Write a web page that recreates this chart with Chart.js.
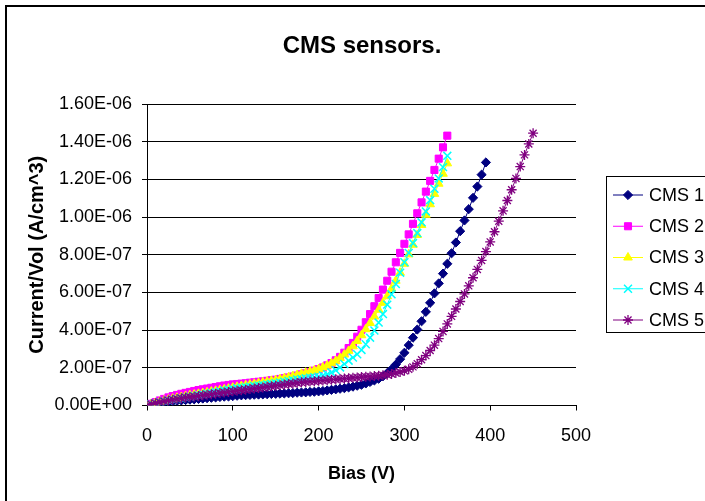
<!DOCTYPE html>
<html>
<head>
<meta charset="utf-8">
<title>CMS sensors.</title>
<script src="https://cdn.jsdelivr.net/npm/chart.js@4.4.1/dist/chart.umd.min.js"></script>
<style>
  html, body { margin: 0; padding: 0; background: #ffffff; }
  #chartWrap { width: 705px; height: 501px; }
</style>
</head>
<body>
<div id="chartWrap"><canvas id="cmsChart" width="705" height="501"></canvas></div>
<script>
/* ---------- Data (current values in units of 1e-7 A/cm^3) ---------- */
const VALUE_UNIT = 1e-7;

const biasVolts = [
  0, 5, 10, 15, 20, 25, 30, 35, 40, 45,
  50, 55, 60, 65, 70, 75, 80, 85, 90, 95,
  100, 105, 110, 115, 120, 125, 130, 135, 140, 145,
  150, 155, 160, 165, 170, 175, 180, 185, 190, 195,
  200, 205, 210, 215, 220, 225, 230, 235, 240, 245,
  250, 255, 260, 265, 270, 275, 280, 285, 290, 295,
  300, 305, 310, 315, 320, 325, 330, 335, 340, 345,
  350, 355, 360, 365, 370, 375, 380, 385, 390, 395,
  400, 405, 410, 415, 420, 425, 430, 435, 440, 445,
  450
];

const seriesNames = ["CMS 1", "CMS 2", "CMS 3", "CMS 4", "CMS 5"];

const cms1Values = [
  0, 0.05, 0.09, 0.13, 0.16, 0.19, 0.22, 0.25, 0.27, 0.29,
  0.31, 0.33, 0.35, 0.37, 0.39, 0.41, 0.43, 0.45, 0.47, 0.48,
  0.50, 0.52, 0.54, 0.55, 0.56, 0.57, 0.58, 0.59, 0.60, 0.61,
  0.62, 0.63, 0.64, 0.65, 0.66, 0.68, 0.69, 0.70, 0.72, 0.73,
  0.75, 0.77, 0.80, 0.83, 0.86, 0.89, 0.92, 0.96, 1.00, 1.05,
  1.10, 1.17, 1.25, 1.33, 1.42, 1.55, 1.72, 1.92, 2.17, 2.46,
  2.80, 3.20, 3.60, 4.03, 4.47, 4.97, 5.45, 5.95, 6.48, 7.00,
  7.52, 8.08, 8.65, 9.25, 9.82, 10.42, 11.02, 11.62, 12.25, 12.90
];

const cms2Values = [
  0, 0.09, 0.18, 0.27, 0.35, 0.43, 0.50, 0.56, 0.62, 0.67,
  0.72, 0.77, 0.82, 0.86, 0.90, 0.94, 0.98, 1.02, 1.06, 1.09,
  1.12, 1.14, 1.16, 1.18, 1.21, 1.23, 1.26, 1.28, 1.31, 1.34,
  1.37, 1.41, 1.45, 1.49, 1.54, 1.59, 1.65, 1.71, 1.78, 1.85,
  1.93, 2.02, 2.13, 2.25, 2.40, 2.58, 2.80, 3.05, 3.32, 3.65,
  4.02, 4.42, 4.85, 5.27, 5.70, 6.15, 6.62, 7.10, 7.60, 8.10,
  8.58, 9.08, 9.64, 10.20, 10.78, 11.35, 11.92, 12.50, 13.10, 13.70,
  14.32
];

const cms3Values = [
  0, 0.07, 0.14, 0.20, 0.26, 0.31, 0.36, 0.41, 0.45, 0.50,
  0.54, 0.58, 0.62, 0.66, 0.70, 0.74, 0.78, 0.82, 0.86, 0.90,
  0.95, 0.99, 1.03, 1.07, 1.11, 1.15, 1.19, 1.23, 1.27, 1.31,
  1.35, 1.40, 1.45, 1.50, 1.56, 1.62, 1.68, 1.74, 1.80, 1.86,
  1.93, 2.02, 2.12, 2.24, 2.37, 2.52, 2.70, 2.90, 3.14, 3.42,
  3.73, 4.05, 4.38, 4.72, 5.08, 5.45, 5.80, 6.20, 6.62, 7.05,
  7.52, 8.02, 8.53, 9.05, 9.58, 10.12, 10.68, 11.23, 11.77, 12.30,
  12.85
];

const cms4Values = [
  0, 0.06, 0.12, 0.17, 0.22, 0.27, 0.31, 0.35, 0.39, 0.43,
  0.47, 0.51, 0.55, 0.59, 0.63, 0.67, 0.71, 0.75, 0.79, 0.83,
  0.87, 0.91, 0.94, 0.97, 1.00, 1.03, 1.06, 1.09, 1.12, 1.15,
  1.18, 1.22, 1.26, 1.30, 1.34, 1.38, 1.41, 1.44, 1.47, 1.50,
  1.53, 1.59, 1.66, 1.75, 1.87, 2.02, 2.20, 2.38, 2.55, 2.72,
  2.95, 3.25, 3.60, 3.98, 4.40, 4.85, 5.35, 5.90, 6.45, 7.05,
  7.60, 8.10, 8.62, 9.15, 9.72, 10.30, 10.90, 11.50, 12.05, 12.65,
  13.25
];

const cms5Values = [
  0, 0.06, 0.12, 0.17, 0.22, 0.27, 0.31, 0.35, 0.39, 0.42,
  0.45, 0.48, 0.51, 0.54, 0.57, 0.60, 0.63, 0.66, 0.69, 0.72,
  0.75, 0.78, 0.81, 0.84, 0.87, 0.90, 0.93, 0.96, 0.99, 1.02,
  1.05, 1.08, 1.11, 1.14, 1.17, 1.20, 1.23, 1.25, 1.27, 1.29,
  1.31, 1.33, 1.35, 1.37, 1.39, 1.41, 1.43, 1.45, 1.47, 1.49,
  1.51, 1.52, 1.54, 1.56, 1.58, 1.60, 1.63, 1.67, 1.72, 1.78,
  1.84, 1.92, 2.05, 2.22, 2.43, 2.65, 2.92, 3.20, 3.55, 3.93,
  4.33, 4.73, 5.12, 5.52, 5.92, 6.35, 6.78, 7.22, 7.70, 8.17,
  8.68, 9.22, 9.78, 10.33, 10.88, 11.45, 12.05, 12.68, 13.30, 13.88,
  14.45
];

const xTickValues = [0, 100, 200, 300, 400, 500];
const yTickValues = [0, 2e-7, 4e-7, 6e-7, 8e-7, 1e-6, 1.2e-6, 1.4e-6, 1.6e-6];

/* ---------- Styles ---------- */
const FONT_FAMILY = "'Liberation Sans', Arial, sans-serif";
const seriesColors = ["#000080", "#ff00ff", "#ffff00", "#00ffff", "#800080"];
const seriesMarkers = [
  { pointStyle: "rectRot", radius: 4.6, borderWidth: 1 },
  { pointStyle: "rect", radius: 5, borderWidth: 1 },
  { pointStyle: "triangle", radius: 5, borderWidth: 1 },
  { pointStyle: "crossRot", radius: 5.6, borderWidth: 1.5 },
  { pointStyle: "star", radius: 5, borderWidth: 1.3 }
];
const seriesValues = [cms1Values, cms2Values, cms3Values, cms4Values, cms5Values];

/* ---------- Helpers ---------- */
function formatExcelExp(value) {
  const parts = Number(value).toExponential(2).split("e");
  const exp = parseInt(parts[1], 10);
  const sign = exp < 0 ? "-" : "+";
  const digits = String(Math.abs(exp)).padStart(2, "0");
  return parts[0] + "E" + sign + digits;
}

function buildPoints(values) {
  return values.map((v, i) => ({ x: biasVolts[i], y: v * VALUE_UNIT }));
}

/* ---------- Decorations: frame, title, legend ---------- */
const decorPlugin = {
  id: "decor",
  beforeDraw(chart) {
    const ctx = chart.ctx;
    ctx.save();
    ctx.strokeStyle = "#000000";
    ctx.lineWidth = 2;
    ctx.beginPath();
    ctx.moveTo(6, 501);
    ctx.lineTo(6, 6);
    ctx.lineTo(705, 6);
    ctx.stroke();
    ctx.restore();
  },
  afterDraw(chart) {
    const ctx = chart.ctx;
    ctx.save();

    // title
    ctx.fillStyle = "#000000";
    ctx.font = "bold 24px " + FONT_FAMILY;
    ctx.textAlign = "center";
    ctx.textBaseline = "middle";
    ctx.fillText("CMS sensors.", 362, 46);

    // legend box
    ctx.strokeStyle = "#000000";
    ctx.lineWidth = 1;
    ctx.fillStyle = "#ffffff";
    ctx.fillRect(607, 177, 110, 156);
    ctx.strokeRect(606.5, 176.5, 110, 156);

    ctx.font = "18px " + FONT_FAMILY;
    ctx.textAlign = "left";
    chart.data.datasets.forEach((ds, i) => {
      const y = 195 + i * 31.25;
      ctx.strokeStyle = ds.borderColor;
      ctx.lineWidth = 1;
      ctx.beginPath();
      ctx.moveTo(613, y);
      ctx.lineTo(643, y);
      ctx.stroke();

      ctx.fillStyle = ds.pointBackgroundColor;
      ctx.strokeStyle = ds.pointBorderColor;
      ctx.lineWidth = ds.pointBorderWidth;
      Chart.helpers.drawPoint(ctx, {
        pointStyle: ds.pointStyle,
        radius: ds.pointRadius,
        rotation: 0,
        borderWidth: ds.pointBorderWidth
      }, 628, y);

      ctx.fillStyle = "#000000";
      ctx.fillText(ds.label, 649, y + 1);
    });

    ctx.restore();
  }
};

/* ---------- Chart ---------- */
const datasets = seriesNames.map((name, i) => ({
  label: name,
  data: buildPoints(seriesValues[i]),
  showLine: true,
  borderColor: seriesColors[i],
  backgroundColor: seriesColors[i],
  borderWidth: 1,
  pointStyle: seriesMarkers[i].pointStyle,
  pointRadius: seriesMarkers[i].radius,
  pointBorderWidth: seriesMarkers[i].borderWidth,
  pointBackgroundColor: seriesColors[i],
  pointBorderColor: seriesColors[i],
  order: seriesNames.length - i
}));

new Chart(document.getElementById("cmsChart"), {
  type: "scatter",
  data: { datasets: datasets },
  plugins: [decorPlugin],
  options: {
    responsive: false,
    animation: false,
    layout: { padding: { left: 0, right: 129, top: 104, bottom: 0 } },
    plugins: {
      legend: { display: false },
      title: { display: false },
      tooltip: { enabled: false }
    },
    scales: {
      x: {
        type: "linear",
        min: 0,
        max: 500,
        afterBuildTicks(scale) {
          scale.ticks = xTickValues.map((v) => ({ value: v }));
        },
        afterFit(scale) {
          scale.height = 95.5;
        },
        ticks: {
          color: "#000000",
          padding: 15,
          maxRotation: 0,
          font: { family: FONT_FAMILY, size: 18 }
        },
        grid: {
          drawOnChartArea: false,
          drawTicks: true,
          tickLength: 5,
          color: "#000000"
        },
        border: { display: true, color: "#000000", width: 1 },
        title: {
          display: true,
          text: "Bias (V)",
          color: "#000000",
          padding: { top: 0, bottom: 16 },
          font: { family: FONT_FAMILY, size: 18, weight: "bold" }
        }
      },
      y: {
        type: "linear",
        min: 0,
        max: 1.6e-6,
        afterBuildTicks(scale) {
          scale.ticks = yTickValues.map((v) => ({ value: v }));
        },
        afterFit(scale) {
          scale.width = 147;
        },
        ticks: {
          color: "#000000",
          padding: 10,
          font: { family: FONT_FAMILY, size: 18 },
          callback: (value) => formatExcelExp(value)
        },
        grid: {
          drawTicks: true,
          tickLength: 5,
          color: "#000000",
          lineWidth: 1
        },
        border: { display: true, color: "#000000", width: 1 },
        title: {
          display: true,
          text: "Current/Vol (A/cm^3)",
          color: "#000000",
          padding: { top: 25, bottom: 0 },
          font: { family: FONT_FAMILY, size: 20, weight: "bold" }
        }
      }
    }
  }
});
</script>
</body>
</html>
